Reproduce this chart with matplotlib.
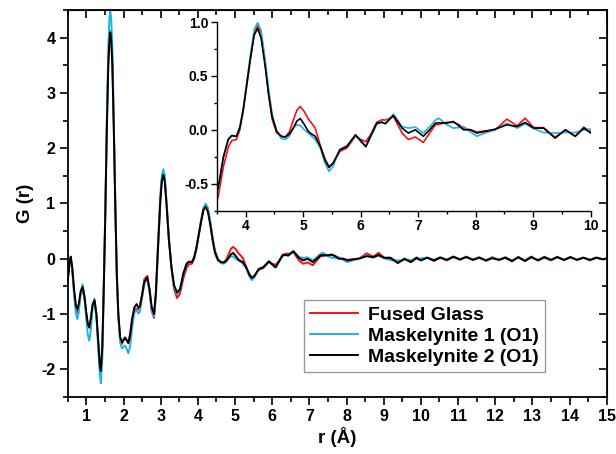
import numpy as np
import matplotlib
matplotlib.use("Agg")
import matplotlib.pyplot as plt
from matplotlib.ticker import MultipleLocator

plt.rcParams['font.family'] = ['Liberation Sans', 'DejaVu Sans']
plt.rcParams['font.weight'] = 'bold'
plt.rcParams['axes.unicode_minus'] = False

# r grid (Angstrom), shared by the three series
r = [0.50, 0.55, 0.58, 0.62, 0.67, 0.72, 0.76, 0.80, 0.85, 0.90,
     0.95, 1.00, 1.04, 1.08, 1.12, 1.17, 1.22, 1.27, 1.32, 1.36,
     1.39, 1.43, 1.47, 1.51, 1.55, 1.59, 1.62, 1.645, 1.67, 1.70,
     1.74, 1.78, 1.82, 1.86, 1.91, 1.96, 2.00, 2.04, 2.09, 2.13,
     2.18, 2.23, 2.29, 2.35, 2.40, 2.44, 2.50, 2.56, 2.64, 2.70,
     2.76, 2.82, 2.87, 2.93, 2.99, 3.03, 3.07, 3.11, 3.16, 3.22,
     3.29, 3.36, 3.44, 3.52, 3.615, 3.70, 3.76, 3.84, 3.90, 3.96,
     4.02, 4.08, 4.15, 4.21, 4.27, 4.34, 4.40, 4.46, 4.54, 4.62,
     4.69, 4.76, 4.83, 4.89, 4.95, 5.02, 5.09, 5.15, 5.21, 5.30,
     5.38, 5.45, 5.52, 5.64, 5.76, 5.91, 6.00, 6.09, 6.18, 6.28,
     6.37, 6.43, 6.57, 6.72, 6.83, 6.95, 7.09, 7.20, 7.30, 7.36,
     7.50, 7.61, 7.70, 7.79, 7.91, 8.02, 8.16, 8.34, 8.54, 8.72,
     8.86, 9.01, 9.18, 9.38, 9.56, 9.73, 9.88, 10.00,
     10.17, 10.35, 10.52, 10.70, 10.87, 11.05, 11.22, 11.40, 11.57, 11.75,
     11.92, 12.10, 12.27, 12.45, 12.62, 12.80, 12.97, 13.15, 13.32, 13.50,
     13.67, 13.85, 14.02, 14.20, 14.37, 14.55, 14.72, 14.90, 15.00]

fused = [-0.38, -0.05, 0.02, -0.18, -0.60, -0.92, -0.98, -0.85, -0.62, -0.55,
         -0.72, -1.02, -1.20, -1.25, -1.10, -0.84, -0.76, -1.02, -1.50, -1.92,
         -2.05, -1.55, -0.40, 0.90, 2.40, 3.55, 4.00, 4.12, 4.00, 3.55,
         2.35, 0.95, -0.30, -1.00, -1.45, -1.54, -1.47, -1.42, -1.47, -1.50,
         -1.35, -1.10, -0.92, -0.90, -0.92, -0.86, -0.64, -0.37, -0.31, -0.58,
         -0.95, -1.07, -0.68, 0.20, 1.05, 1.42, 1.55, 1.42, 0.98, 0.35,
         -0.18, -0.55, -0.71, -0.63, -0.34, -0.16, -0.10, -0.09, 0.00, 0.18,
         0.41, 0.64, 0.90, 0.97, 0.90, 0.62, 0.33, 0.10, -0.03, -0.06,
         -0.065, -0.02, 0.09, 0.18, 0.216, 0.17, 0.10, 0.06, 0.016, -0.15,
         -0.27, -0.34, -0.31, -0.20, -0.17, -0.06, -0.09, -0.11, -0.04, 0.07,
         0.093, 0.09, 0.124, -0.03, -0.09, -0.067, -0.117, -0.03, 0.046, 0.05,
         0.07, 0.07, 0.05, 0.016, 0.00, -0.02, -0.01, 0.00, 0.099, 0.037,
         0.108, 0.02, 0.02, -0.07, 0.00, -0.06, 0.025, -0.02,
         0.02, -0.04, 0.02, -0.03, 0.03, -0.02, 0.04, -0.02, 0.02, -0.03,
         0.03, -0.02, 0.02, -0.05, 0.03, -0.03, 0.04, -0.03, 0.02, -0.03,
         0.03, -0.02, 0.03, -0.02, 0.02, -0.03, 0.02, -0.01, 0.00]

mask1 = [-0.35, -0.08, 0.00, -0.20, -0.65, -1.00, -1.09, -0.95, -0.60, -0.46,
         -0.70, -1.10, -1.38, -1.48, -1.30, -0.88, -0.72, -1.05, -1.62, -2.08,
         -2.25, -1.80, -0.60, 0.80, 2.45, 3.80, 4.35, 4.48, 4.33, 3.80,
         2.45, 0.95, -0.30, -1.05, -1.52, -1.62, -1.59, -1.57, -1.64, -1.71,
         -1.58, -1.25, -0.98, -0.93, -0.99, -0.96, -0.70, -0.44, -0.36, -0.60,
         -0.95, -1.04, -0.62, 0.30, 1.15, 1.50, 1.62, 1.50, 1.02, 0.38,
         -0.16, -0.52, -0.64, -0.56, -0.25, -0.08, -0.05, -0.06, 0.03, 0.20,
         0.44, 0.68, 0.93, 0.995, 0.92, 0.65, 0.38, 0.15, -0.01, -0.08,
         -0.09, -0.06, 0.02, 0.046, 0.04, 0.00, -0.03, -0.06, -0.09, -0.17,
         -0.31, -0.385, -0.34, -0.18, -0.15, -0.05, -0.11, -0.16, -0.06, 0.05,
         0.07, 0.06, 0.146, 0.03, 0.016, 0.025, -0.03, 0.03, 0.09, 0.108,
         0.046, 0.016, 0.02, 0.03, -0.02, -0.06, -0.03, 0.00, 0.06, 0.016,
         0.056, 0.01, -0.025, -0.03, -0.025, -0.025, 0.00, 0.006,
         0.02, -0.02, 0.03, -0.02, 0.03, -0.02, 0.03, -0.01, 0.03, -0.04,
         0.02, -0.02, 0.03, -0.03, 0.02, -0.04, 0.02, -0.02, 0.04, -0.02,
         0.04, -0.03, 0.02, -0.02, 0.02, -0.02, 0.02, -0.01, 0.01]

mask2 = [-0.40, -0.06, 0.04, -0.15, -0.55, -0.85, -0.91, -0.80, -0.58, -0.51,
         -0.68, -0.98, -1.18, -1.24, -1.08, -0.82, -0.75, -1.00, -1.50, -1.90,
         -2.03, -1.60, -0.50, 0.80, 2.30, 3.50, 3.95, 4.09, 3.95, 3.50,
         2.30, 0.90, -0.30, -1.00, -1.42, -1.51, -1.47, -1.43, -1.48, -1.53,
         -1.38, -1.10, -0.88, -0.82, -0.88, -0.86, -0.66, -0.42, -0.34, -0.55,
         -0.88, -1.00, -0.62, 0.25, 1.05, 1.40, 1.52, 1.40, 0.95, 0.35,
         -0.15, -0.48, -0.61, -0.55, -0.25, -0.09, -0.055, -0.06, 0.02, 0.19,
         0.42, 0.65, 0.88, 0.94, 0.85, 0.59, 0.33, 0.124, -0.015, -0.06,
         -0.068, -0.04, 0.016, 0.08, 0.105, 0.05, -0.015, -0.04, -0.06, -0.154,
         -0.28, -0.35, -0.31, -0.185, -0.154, -0.046, -0.10, -0.154, -0.05, 0.062,
         0.07, 0.056, 0.133, 0.016, -0.03, 0.00, -0.06, 0.00, 0.062, 0.065,
         0.062, 0.077, 0.04, 0.00, 0.00, -0.03, -0.015, 0.006, 0.046, 0.031,
         0.068, 0.016, 0.016, -0.077, 0.00, -0.06, 0.016, -0.03,
         0.02, -0.03, 0.02, -0.02, 0.04, -0.01, 0.03, -0.02, 0.02, -0.03,
         0.01, -0.02, 0.02, -0.04, 0.03, -0.04, 0.03, -0.03, 0.03, -0.02,
         0.03, -0.02, 0.03, -0.02, 0.02, -0.02, 0.02, -0.01, 0.01]

assert len(r) == len(fused) == len(mask1) == len(mask2)

labels = ['Fused Glass', 'Maskelynite 1 (O1)', 'Maskelynite 2 (O1)']
colors = ['#f51010', '#1cb4e4', '#000000']
series = [fused, mask1, mask2]

# tick values
main_xticks = list(range(1, 16))
main_yticks = [-2, -1, 0, 1, 2, 3, 4]
inset_xticks = [4, 5, 6, 7, 8, 9, 10]
inset_yticks = [-0.5, 0.0, 0.5, 1.0]

fig = plt.figure(figsize=(6.16, 4.54), dpi=100)
ax = fig.add_axes([0.110, 0.1256, 0.875, 0.8524])

for g, c, lab in zip(series, colors, labels):
    ax.plot(r, g, color=c, lw=1.4, label=lab)

ax.set_xlim(0.5, 15)
ax.set_ylim(-2.5, 4.5)
ax.set_xticks(main_xticks, [str(t) for t in main_xticks], fontweight='bold')
ax.set_yticks(main_yticks, [str(t) for t in main_yticks], fontweight='bold')
ax.xaxis.set_minor_locator(MultipleLocator(0.5))
ax.yaxis.set_minor_locator(MultipleLocator(0.5))
ax.tick_params(which='major', direction='out', length=6, width=1.2, labelsize=11.5, pad=3)
ax.tick_params(which='minor', direction='out', length=3.5, width=1.2)
for s in ax.spines.values():
    s.set_linewidth(1.3)

# mirrored ticks on top/right pointing inward
top = ax.secondary_xaxis('top')
top.xaxis.set_major_locator(MultipleLocator(1))
top.xaxis.set_minor_locator(MultipleLocator(0.5))
top.tick_params(which='major', direction='in', length=6, width=1.2, labeltop=False)
top.tick_params(which='minor', direction='in', length=3.5, width=1.2)
right = ax.secondary_yaxis('right')
right.yaxis.set_major_locator(MultipleLocator(1))
right.yaxis.set_minor_locator(MultipleLocator(0.5))
right.tick_params(which='major', direction='in', length=6, width=1.2, labelright=False)
right.tick_params(which='minor', direction='in', length=3.5, width=1.2)

ax.set_xlabel('r (Å)', fontsize=13.5, fontweight='bold', labelpad=2)
ax.set_ylabel('G (r)', fontsize=13.5, fontweight='bold', labelpad=5)

leg = ax.legend(loc='lower left', bbox_to_anchor=(0.438, 0.065),
                prop={'size': 14, 'weight': 'bold'},
                frameon=True, fancybox=False, edgecolor='#808080',
                handlelength=2.5, labelspacing=0.18, borderpad=0.3,
                handletextpad=0.5, borderaxespad=0)
leg.get_frame().set_linewidth(1.0)

# inset
ins = fig.add_axes([0.352, 0.536, 0.607, 0.4155])
for g, c in zip(series, colors):
    ins.plot(r, g, color=c, lw=1.2)
ins.set_xlim(3.5, 10)
ins.set_ylim(-0.75, 1.0)
ins.spines['top'].set_visible(False)
ins.spines['right'].set_visible(False)
for s in ['left', 'bottom']:
    ins.spines[s].set_linewidth(1.0)
ins.set_xticks(inset_xticks, [str(t) for t in inset_xticks], fontweight='bold')
ins.set_yticks(inset_yticks, ['%.1f' % t for t in inset_yticks], fontweight='bold')
ins.xaxis.set_minor_locator(MultipleLocator(0.5))
ins.yaxis.set_minor_locator(MultipleLocator(0.25))
ins.tick_params(which='major', direction='out', length=4, width=1.0, labelsize=10, pad=2)
ins.tick_params(which='minor', direction='out', length=2.5, width=1.0)
ins.patch.set_alpha(0)

fig.savefig('out.png', dpi=100)
